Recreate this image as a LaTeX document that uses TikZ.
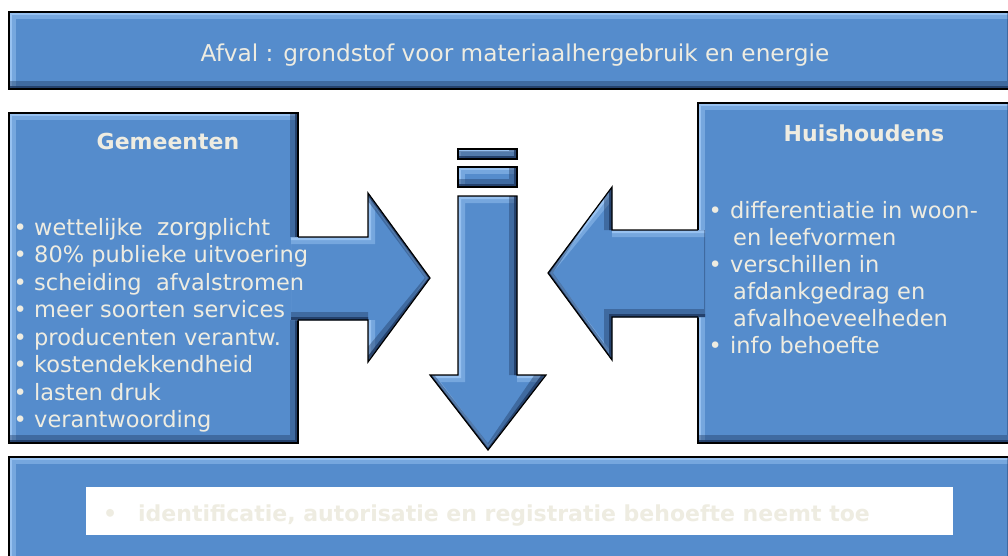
\documentclass[tikz,border=0pt]{standalone}
\usepackage{fontspec}
\setmainfont{DejaVu Sans}
\definecolor{boxblue}{RGB}{85,140,204}
\definecolor{hiblue}{RGB}{160,200,245}
\definecolor{loblue}{RGB}{30,55,95}
\definecolor{beige}{RGB}{238,236,225}
% #1 fill path, #2 clip region for the bevel, #3 outline path
\newcommand\bevelarrow[3]{%
  \fill[boxblue] #1;
  \begin{scope}
    \clip #2;
    \clip #1;
    \draw[hiblue, opacity=0.45, line width=7pt, shift={(3.5,3.5)}] #1;
    \draw[hiblue, opacity=0.8, line width=3pt, shift={(1.5,1.5)}] #1;
    \draw[loblue, opacity=0.4, line width=8pt, shift={(-4,-4)}] #1;
    \draw[loblue, opacity=0.8, line width=3pt, shift={(-1.5,-1.5)}] #1;
  \end{scope}
  \draw[black, line width=1.2pt, line join=miter] #3;
}
\newcommand\bevelshape[1]{\bevelarrow{#1}{(0,0) rectangle (1008,555)}{#1}}
\tikzset{
  txt/.style={text=beige, inner sep=0pt, font=\fontsize{22.5}{27}\selectfont},
  head/.style={text=beige, inner sep=0pt, font=\fontsize{22}{27}\selectfont\bfseries},
}
\newcommand\bul[1]{\makebox[#1][l]{•}}
\begin{document}
\begin{tikzpicture}[x=1pt,y=-1pt]
\useasboundingbox (0,0) rectangle (1008,555);
\clip (0,0) rectangle (1008,555);
% banner
\bevelshape{(9,12) rectangle (1015,89)}
% side boxes
\bevelshape{(9,113) rectangle (298,443)}
\bevelshape{(698,103) rectangle (1015,443)}
% bottom box
\bevelshape{(9,457) rectangle (1015,565)}
\fill[white] (86,487) rectangle (953,535);
% arrow from Gemeenten
\coordinate (ra) at (430,278);
\bevelarrow{(284,237) -- (368,237) -- (368,193) -- (ra) -- (368,362) -- (368,320) -- (284,320) -- cycle}
  {(291,0) rectangle (1008,555)}
  {(298,237) -- (368,237) -- (368,193) -- (ra) -- (368,362) -- (368,320) -- (298,320)}
% arrow from Huishoudens
\coordinate (la) at (548,273);
\bevelarrow{(712,230) -- (612,230) -- (612,187) -- (la) -- (612,360) -- (612,317) -- (712,317) -- cycle}
  {(0,0) rectangle (705,555)}
  {(698,230) -- (612,230) -- (612,187) -- (la) -- (612,360) -- (612,317) -- (698,317)}
% down arrow
\coordinate (da) at (488,450);
\bevelshape{(458,149) rectangle (517,159)}
\bevelshape{(458,167) rectangle (517,187)}
\bevelshape{(458,196) -- (517,196) -- (517,375) -- (546,375) -- (da) -- (430,375) -- (458,375) -- cycle}
% texts
\node[text=beige, inner sep=0pt, font=\fontsize{23.2}{28}\selectfont, anchor=base] (title) at (515,61) {Afval : grondstof voor materiaalhergebruik en energie};
\node[head, anchor=base] (gem) at (168,149) {Gemeenten};
\node[head, anchor=base] (huis) at (864,141) {Huishoudens};
\foreach \t [count=\i from 0] in {{wettelijke\ \ {\fontsize{23.5}{27}\selectfont zorg}plicht},{80\% publieke uitvoering},{scheiding\ \ afvalstromen},{meer soorten services},{producenten verantw.},{kostendekkendheid},{lasten druk},{verantwoording}}
  \node[txt, anchor=base west] (g\i) at (13.5,235+27.5*\i) {\bul{20.5pt}\t};
\node[txt, anchor=base west] (h0) at (708.5,218) {\bul{21.5pt}differentiatie in woon-};
\node[txt, anchor=base west] (h1) at (708.5,245) {\hspace*{24.5pt}en leefvormen};
\node[txt, anchor=base west] (h2) at (708.5,272) {\bul{21.5pt}verschillen in};
\node[txt, anchor=base west] (h3) at (708.5,299) {\hspace*{24.5pt}afdankgedrag en};
\node[txt, anchor=base west] (h4) at (708.5,326) {\hspace*{24.5pt}afvalhoeveelheden};
\node[txt, anchor=base west] (h5) at (708.5,353) {\bul{21.5pt}info behoefte};
\node[text=beige, inner sep=0pt, font=\fontsize{22}{27}\selectfont\bfseries, anchor=base west] (bul) at (103,521) {•};
\node[text=beige, inner sep=0pt, font=\fontsize{22}{27}\selectfont\bfseries, anchor=base west] (bottom) at (138,521) {identificatie, autorisatie en registratie behoefte neemt toe};
\end{tikzpicture}
\end{document}
